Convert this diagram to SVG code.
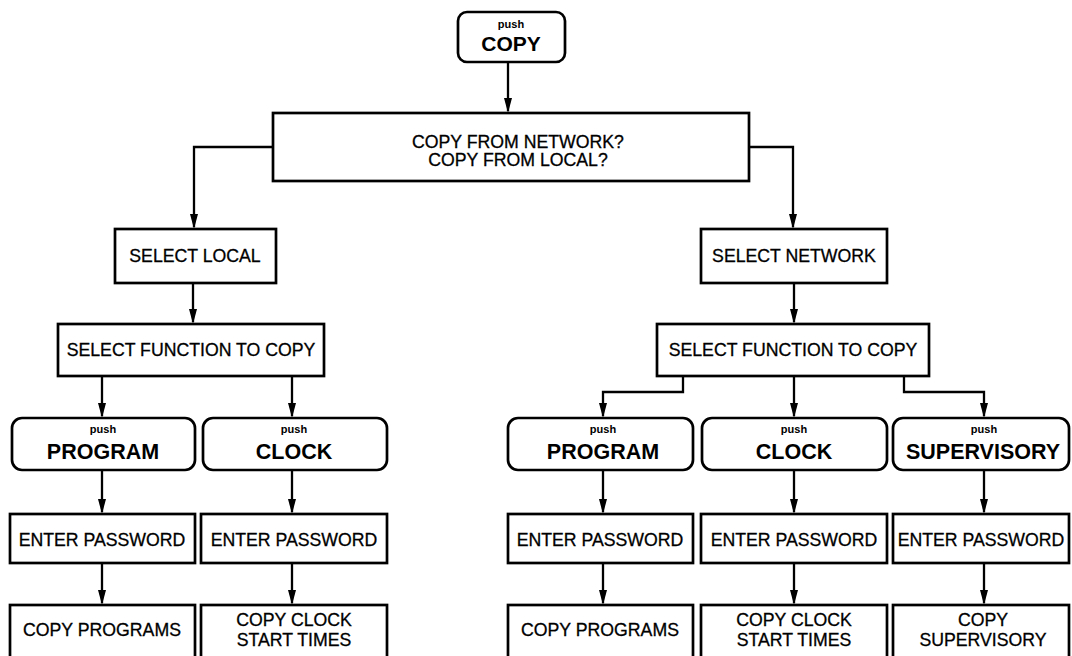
<svg xmlns="http://www.w3.org/2000/svg" width="1072" height="656" viewBox="0 0 1072 656">
<style>
  .box { fill: #fff; stroke: #000; stroke-width: 2.7; }
  .t { font-family: "Liberation Sans", Arial, sans-serif; font-size: 17.7px; fill: #000; stroke: #000; stroke-width: 0.3; text-anchor: middle; }
  .push { font-family: "Liberation Sans", Arial, sans-serif; font-size: 11px; font-weight: bold; fill: #000; text-anchor: middle; }
  .big { font-family: "Liberation Sans", Arial, sans-serif; font-size: 21.5px; font-weight: bold; fill: #000; text-anchor: middle; }
  .c { fill: none; stroke: #000; stroke-width: 2.3; marker-end: url(#arr); }
</style>
<defs>
  <marker id="arr" viewBox="0 0 15 8" refX="13" refY="4" markerWidth="15" markerHeight="8" markerUnits="userSpaceOnUse" orient="auto">
    <path d="M0,0 L15,4 L0,8 Z" fill="#000"/>
  </marker>
</defs>
<rect width="1072" height="656" fill="#fff"/>
<g id="connectors">
  <path class="c" d="M508,62 V111"/>
  <path class="c" d="M273,147 H194 V227"/>
  <path class="c" d="M749,147 H793 V227"/>
  <path class="c" d="M193,283 V322"/>
  <path class="c" d="M102,376 V416"/>
  <path class="c" d="M292,376 V416"/>
  <path class="c" d="M102,470 V512"/>
  <path class="c" d="M292,470 V512"/>
  <path class="c" d="M102,563 V603"/>
  <path class="c" d="M292,563 V603"/>
  <path class="c" d="M794,283 V322"/>
  <path class="c" d="M683,376 V392 H603 V416"/>
  <path class="c" d="M794,376 V416"/>
  <path class="c" d="M904,376 V392 H984 V416"/>
  <path class="c" d="M603,470 V512"/>
  <path class="c" d="M794,470 V512"/>
  <path class="c" d="M984,470 V512"/>
  <path class="c" d="M603,563 V603"/>
  <path class="c" d="M794,563 V603"/>
  <path class="c" d="M984,563 V603"/>
</g>
<g id="n-copy">
  <rect class="box" x="458" y="12" width="107" height="50" rx="9"/>
  <text class="push" x="511" y="28">push</text>
  <text class="big" x="511" y="51" style="font-size:21px">COPY</text>
</g>
<g id="n-from">
  <rect class="box" x="273" y="113" width="476" height="68"/>
  <text class="t" x="518" y="147.5">COPY FROM NETWORK?</text>
  <text class="t" x="518" y="165.5">COPY FROM LOCAL?</text>
</g>
<g id="n-sel-local">
  <rect class="box" x="115" y="229" width="161" height="54"/>
  <text class="t" x="195" y="262">SELECT LOCAL</text>
</g>
<g id="n-func-local">
  <rect class="box" x="58" y="324" width="266" height="52"/>
  <text class="t" x="191" y="356">SELECT FUNCTION TO COPY</text>
</g>
<g id="n-prog-l">
  <rect class="box" x="12" y="418" width="183" height="52" rx="10"/>
  <text class="push" x="103" y="433">push</text>
  <text class="big" x="103" y="459">PROGRAM</text>
</g>
<g id="n-clock-l">
  <rect class="box" x="203" y="418" width="184" height="52" rx="10"/>
  <text class="push" x="294" y="433">push</text>
  <text class="big" x="294" y="459">CLOCK</text>
</g>
<g id="n-pw-l1">
  <rect class="box" x="10" y="514" width="185" height="49"/>
  <text class="t" x="102" y="546">ENTER PASSWORD</text>
</g>
<g id="n-pw-l2">
  <rect class="box" x="201" y="514" width="186" height="49"/>
  <text class="t" x="294" y="546">ENTER PASSWORD</text>
</g>
<g id="n-copyprog-l">
  <rect class="box" x="10" y="605" width="185" height="65"/>
  <text class="t" x="102" y="636">COPY PROGRAMS</text>
</g>
<g id="n-copyclock-l">
  <rect class="box" x="201" y="605" width="186" height="65"/>
  <text class="t" x="294" y="626">COPY CLOCK</text>
  <text class="t" x="294" y="646">START TIMES</text>
</g>
<g id="n-sel-net">
  <rect class="box" x="701" y="229" width="186" height="54"/>
  <text class="t" x="794" y="262">SELECT NETWORK</text>
</g>
<g id="n-func-net">
  <rect class="box" x="657" y="324" width="272" height="52"/>
  <text class="t" x="793" y="356">SELECT FUNCTION TO COPY</text>
</g>
<g id="n-prog-r">
  <rect class="box" x="508" y="418" width="185" height="52" rx="10"/>
  <text class="push" x="603" y="433">push</text>
  <text class="big" x="603" y="459">PROGRAM</text>
</g>
<g id="n-clock-r">
  <rect class="box" x="702" y="418" width="185" height="52" rx="10"/>
  <text class="push" x="794" y="433">push</text>
  <text class="big" x="794" y="459">CLOCK</text>
</g>
<g id="n-super-r">
  <rect class="box" x="893" y="418" width="176" height="52" rx="10"/>
  <text class="push" x="984" y="433">push</text>
  <text class="big" x="983" y="459">SUPERVISORY</text>
</g>
<g id="n-pw-r1">
  <rect class="box" x="508" y="514" width="185" height="49"/>
  <text class="t" x="600" y="546">ENTER PASSWORD</text>
</g>
<g id="n-pw-r2">
  <rect class="box" x="701" y="514" width="186" height="49"/>
  <text class="t" x="794" y="546">ENTER PASSWORD</text>
</g>
<g id="n-pw-r3">
  <rect class="box" x="893" y="514" width="176" height="49"/>
  <text class="t" x="981" y="546">ENTER PASSWORD</text>
</g>
<g id="n-copyprog-r">
  <rect class="box" x="508" y="605" width="185" height="65"/>
  <text class="t" x="600" y="636">COPY PROGRAMS</text>
</g>
<g id="n-copyclock-r">
  <rect class="box" x="701" y="605" width="186" height="65"/>
  <text class="t" x="794" y="626">COPY CLOCK</text>
  <text class="t" x="794" y="646">START TIMES</text>
</g>
<g id="n-copysuper-r">
  <rect class="box" x="893" y="605" width="176" height="65"/>
  <text class="t" x="983" y="626">COPY</text>
  <text class="t" x="983" y="646">SUPERVISORY</text>
</g>
</svg>
